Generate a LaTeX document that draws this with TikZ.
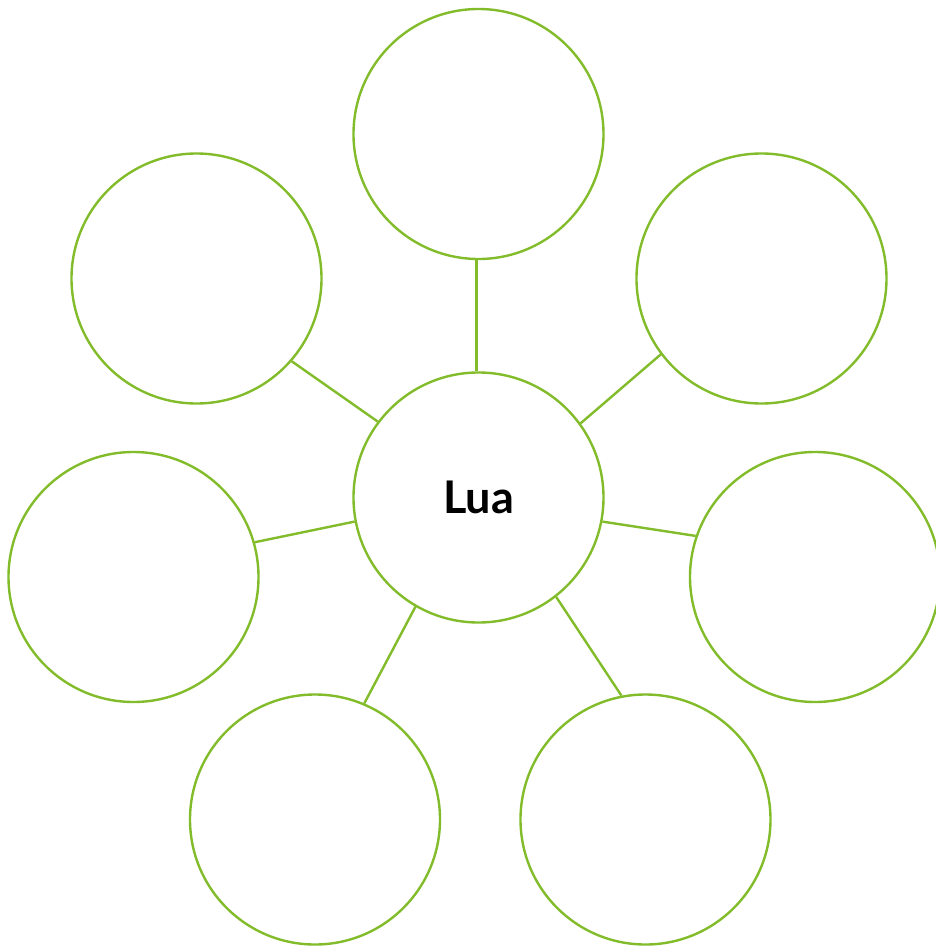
\documentclass[tikz,border=0pt]{standalone}
\usepackage{fontspec}
\setmainfont{Lato}
\definecolor{leaf}{HTML}{82BC2A}
\begin{document}
\begin{tikzpicture}[x=1pt,y=-1pt,
  bubble/.style={circle,draw=leaf,line width=2.4pt,minimum size=250pt,inner sep=0pt},
  link/.style={draw=leaf,line width=2.4pt}]
\useasboundingbox (0,0) rectangle (936,948);
\node[bubble,font=\fontsize{45}{54}\selectfont\bfseries] (c) at (478.5,497.5) {Lua};
\node[bubble] (t) at (478.5,134) {};
\node[bubble] (tl) at (196.5,278.5) {};
\node[bubble] (tr) at (761.5,278.5) {};
\node[bubble] (l) at (133.5,577) {};
\node[bubble] (r) at (815,577) {};
\node[bubble] (bl) at (315,819.5) {};
\node[bubble] (br) at (645.5,819.5) {};
\draw[link] (c.91.5) -- (c.91.5 |- t.south);
\draw[link] (c.143.4) -- (tl.319.8);
\draw[link] (c.36.1) -- (tr.217.8);
\draw[link] (c.191) -- (l.16.9);
\draw[link] (c.349.1) -- (r.161.9);
\draw[link] (c.240.2) -- (bl.67.7);
\draw[link] (c.308) -- (br.101.3);
\end{tikzpicture}
\end{document}
